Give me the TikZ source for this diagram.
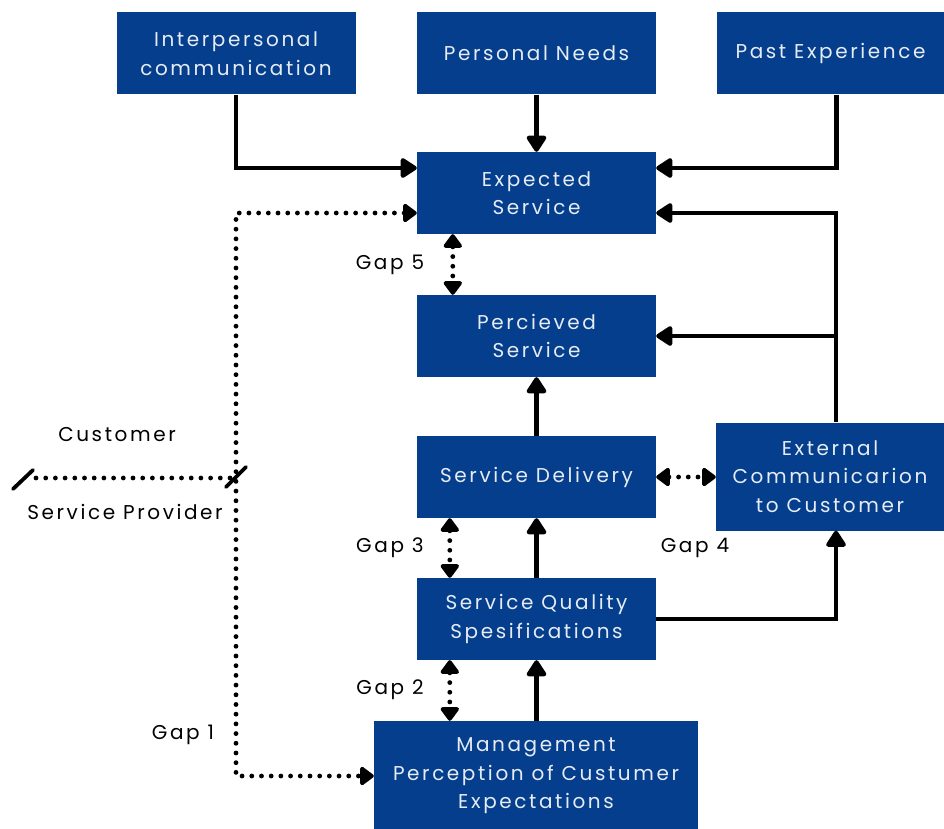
\documentclass[tikz,border=0pt]{standalone}
\usepackage{fontspec}
\setmainfont{Poppins}[LetterSpace=13]
\usetikzlibrary{arrows.meta}
\definecolor{boxblue}{RGB}{4,62,140}

\begin{document}
\begin{tikzpicture}[x=1pt,y=-1pt,
  box/.style={rectangle,fill=boxblue,text=white!90!boxblue,minimum width=239pt,minimum height=82pt,inner sep=0pt,align=center,font=\fontsize{20}{28.5}\selectfont},
  lbl/.style={font=\fontsize{20}{28}\selectfont},
  flow/.style={line width=4.2pt,-{Triangle[length=18pt,width=22pt,round]}},
  dots/.style={line width=4.8pt,line cap=round,dash pattern=on 0pt off 9.7pt},
  gap/.style={dots,{Triangle[length=15pt,width=21pt,round]}-{Triangle[length=15pt,width=21pt,round]}},
  slash/.style={line width=3.8pt,line cap=round}]
\useasboundingbox (0,0) rectangle (944,829);
\node[box] (interp) at (236,53.5) {Interpersonal\\communication};
\node[box] (needs) at (536.5,53.5) {Personal Needs};
\node[box,minimum width=227pt] (past) at (830.5,53.5) {Past Experience};
\node[box] (expected) at (536.5,193) {Expected\\Service};
\node[box] (perceived) at (536.5,336) {Percieved\\Service};
\node[box] (delivery) at (536.5,477) {Service Delivery};
\node[box,minimum width=228pt,minimum height=108pt] (external) at (830,476.5) {External\\Communicarion\\to Customer};
\node[box] (specs) at (536.5,619) {Service Quality\\Spesifications};
\node[box,minimum width=324pt,minimum height=110pt] (mgmt) at (536,776) {Management\\Perception of Custumer\\Expectations};
\node[lbl] (customer) at (117,435) {Customer};
\node[lbl] (provider) at (125,512) {Service Provider};
\node[lbl] (gap5) at (390,265) {Gap 5};
\node[lbl] (gap3) at (390,548) {Gap 3};
\node[lbl] (gap4) at (695,548) {Gap 4};
\node[lbl] (gap2) at (390,690) {Gap 2};
\node[lbl] (gap1) at (183,735) {Gap 1};
\coordinate (divL) at (23,478);
\coordinate (divR) at (236,478);
\coordinate (branch) at ([xshift=6pt]external.north |- perceived.east);
\draw[flow] (interp.south) |- ([yshift=25pt]expected.west);
\draw[flow] (needs.south) -- (expected.north);
\draw[flow] ([xshift=6pt]past.south) |- ([yshift=25pt]expected.east);
\draw[flow] ([xshift=6pt]external.north) |- ([yshift=-20pt]expected.east);
\draw[flow] (branch) -- (perceived.east);
\draw[flow] (delivery.north) -- (perceived.south);
\draw[flow] (specs.north) -- (delivery.south);
\draw[flow] (mgmt.north -| specs.north) -- (specs.south);
\draw[flow] (specs.east) -| ([xshift=6pt]external.south);
\draw[gap] ([xshift=36pt]expected.south west) -- ([xshift=36pt]perceived.north west);
\draw[gap] ([xshift=33pt]delivery.south west) -- ([xshift=33pt]specs.north west);
\draw[gap] ([xshift=33pt]specs.south west) -- ([xshift=33pt]specs.south west |- mgmt.north);
\draw[gap] (delivery.east) -- (external.west |- delivery.east);
\draw[gap] ([yshift=-20pt]expected.west) -| (interp.south |- mgmt.west) -- (mgmt.west);
\draw[dots] ([xshift=13pt]divL) -- ([xshift=-4pt]divR);
\draw[slash] ([shift={(-10,11)}]divL) -- ([shift={(10,-8)}]divL);
\draw[slash] ([shift={(-10,9)}]divR) -- ([shift={(10,-11)}]divR);
\end{tikzpicture}
\end{document}
